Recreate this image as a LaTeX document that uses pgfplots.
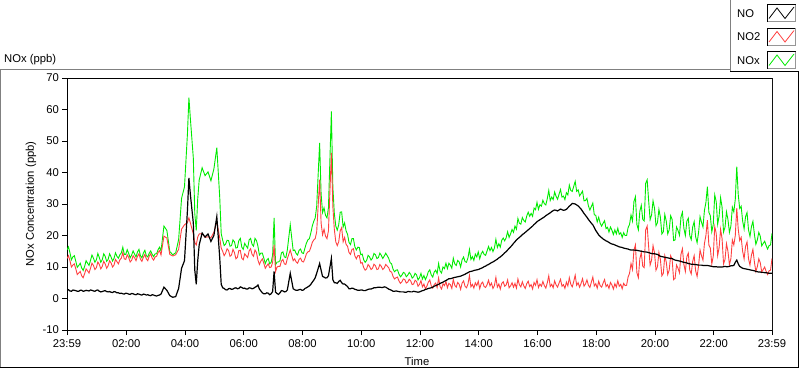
\documentclass[border=0pt]{standalone}
\usepackage{pgfplots}
\pgfplotsset{compat=1.18}
\usepackage{pgfplotstable}
\usepackage{fontspec}
\setmainfont{Liberation Sans}
\definecolor{noxgreen}{RGB}{0,235,0}
\definecolor{notwored}{RGB}{255,64,64}
\definecolor{framegray}{RGB}{128,128,128}
\definecolor{lightgray2}{RGB}{150,150,150}
\pgfplotstableread{
h NO NO2 NOx
0.0 2.6 12.7 15.4
0.05 2.8 13.6 16.4
0.1 2.4 12.0 14.5
0.15 2.3 10.0 12.3
0.2 2.7 10.6 13.2
0.25 2.6 11.0 13.6
0.3 2.5 9.4 11.8
0.35 2.3 7.6 9.9
0.4 2.3 8.1 10.5
0.45 2.6 8.6 11.2
0.5 2.6 7.2 9.7
0.55 2.3 6.6 8.9
0.6 2.4 7.9 10.2
0.65 2.6 9.4 12.0
0.7 2.5 8.8 11.2
0.75 2.4 8.1 10.5
0.8 2.7 9.6 12.1
0.85 2.6 11.2 13.8
0.9 2.4 10.5 12.8
0.95 2.3 9.2 11.5
1.0 2.6 9.8 12.3
1.05 2.7 11.6 14.3
1.1 2.3 10.8 13.0
1.15 2.1 9.4 11.5
1.2 2.2 10.2 12.3
1.25 2.4 11.8 14.2
1.3 2.5 11.0 13.4
1.35 2.2 9.6 11.8
1.4 2.1 10.4 12.4
1.45 2.2 12.0 14.2
1.5 2.0 11.3 13.2
1.55 1.9 10.0 11.9
1.6 2.2 10.6 12.7
1.65 2.1 12.4 14.5
1.7 1.8 11.7 13.4
1.75 1.8 11.0 12.8
1.8 1.6 12.3 13.9
1.85 1.7 12.8 14.5
1.9 1.5 14.6 16.3
1.95 1.4 12.6 14.0
2.0 1.7 12.4 14.0
2.05 1.6 13.9 15.5
2.1 1.4 13.0 14.3
2.15 1.3 11.6 12.9
2.2 1.6 12.1 13.8
2.25 1.5 13.6 15.1
2.3 1.3 12.9 14.1
2.35 1.2 12.0 13.2
2.4 1.5 13.4 14.8
2.45 1.4 14.2 15.6
2.5 1.2 12.5 13.6
2.55 1.1 11.8 12.9
2.6 1.4 13.1 14.4
2.65 1.3 14.0 15.3
2.7 1.1 12.6 13.6
2.75 1.2 12.0 13.2
2.8 1.0 13.5 14.4
2.85 0.9 14.2 15.1
2.9 1.2 12.8 14.0
2.95 1.1 12.2 13.3
3.0 0.9 13.2 14.2
3.05 0.8 13.4 14.2
3.1 1.0 14.6 15.5
3.15 1.1 15.2 16.3
3.2 1.4 13.8 15.1
3.3 3.6 19.8 23.0
3.4 2.6 19.2 21.6
3.5 0.9 14.0 14.9
3.6 0.4 13.5 13.9
3.7 0.6 13.9 14.5
3.8 3.2 15.6 18.7
3.9 9.6 22.0 31.8
4.0 12.0 23.4 35.5
4.1 28.0 24.2 52.3
4.15 38.3 25.6 63.8
4.2 33.0 24.0 57.1
4.3 24.0 20.5 44.6
4.35 9.0 17.8 27.0
4.4 4.5 17.0 21.6
4.45 12.0 19.5 31.6
4.5 17.0 20.5 37.6
4.6 20.8 20.6 41.5
4.7 19.5 19.4 39.0
4.8 20.5 19.6 40.2
4.9 18.1 19.3 37.4
5.0 20.0 21.0 41.1
5.1 26.0 24.5 47.9
5.2 12.8 19.2 32.0
5.25 4.5 16.0 20.6
5.3 3.4 15.0 18.5
5.35 3.2 13.6 16.8
5.4 2.8 14.4 17.3
5.45 2.7 15.8 18.5
5.5 3.1 15.2 18.4
5.55 3.2 13.4 16.6
5.6 2.9 13.8 16.8
5.65 3.0 15.6 18.6
5.7 3.3 14.6 18.0
5.75 3.4 12.6 16.0
5.8 3.1 13.1 16.2
5.85 3.2 15.2 18.4
5.9 3.7 15.3 19.1
5.95 3.5 12.8 16.3
6.0 3.2 12.3 15.6
6.05 3.3 14.2 17.5
6.1 3.0 13.6 16.7
6.15 3.0 13.0 16.0
6.2 3.4 15.1 18.6
6.25 3.3 15.8 19.1
6.3 3.1 14.0 17.2
6.35 3.2 13.4 16.6
6.4 3.6 15.4 19.1
6.45 3.8 14.6 18.4
6.5 4.3 12.2 16.6
6.55 3.0 10.8 13.8
6.6 2.4 11.9 14.4
6.65 1.8 12.6 14.4
6.7 1.5 11.2 12.8
6.75 1.5 9.6 11.1
6.8 1.8 10.4 12.2
6.85 1.7 11.0 12.7
6.9 1.2 9.8 11.0
6.95 1.5 10.0 11.5
7.0 2.2 11.5 13.8
7.05 8.6 17.0 25.6
7.1 2.0 8.6 10.7
7.15 1.6 10.0 11.6
7.2 1.3 10.2 11.6
7.25 1.8 10.2 12.0
7.3 2.5 11.9 14.5
7.35 2.4 12.4 14.8
7.4 2.1 11.0 13.2
7.45 2.2 10.8 13.0
7.5 2.7 12.6 15.4
7.6 8.0 15.4 23.4
7.7 3.1 12.0 15.2
7.75 2.8 12.6 15.4
7.8 2.6 11.6 14.3
7.85 2.6 11.2 13.8
7.9 2.8 12.4 15.3
7.95 2.9 12.8 15.7
8.0 2.6 11.8 14.5
8.05 2.7 11.6 14.3
8.1 3.2 12.7 16.0
8.15 3.4 14.2 17.6
8.2 3.7 14.8 18.6
8.25 4.0 15.0 19.0
8.3 4.5 16.2 20.8
8.35 5.2 17.8 23.0
8.4 5.8 18.6 24.5
8.45 6.6 19.0 25.6
8.5 8.0 21.2 29.3
8.6 11.1 37.7 49.4
8.65 9.0 24.0 33.2
8.7 7.0 20.2 27.3
8.75 6.8 22.0 28.8
8.8 6.5 19.8 26.4
8.85 6.6 19.0 25.6
8.9 7.2 21.5 28.8
9.0 12.7 46.2 59.4
9.05 6.0 29.2 35.4
9.1 5.0 22.0 27.1
9.15 5.0 18.0 23.0
9.2 4.8 16.8 21.7
9.25 5.4 18.0 23.4
9.3 5.8 21.5 27.4
9.35 5.0 22.5 27.5
9.4 4.6 18.0 22.7
9.45 4.6 19.4 24.0
9.5 4.2 17.2 21.5
9.55 3.8 16.6 20.4
9.6 3.1 14.6 17.8
9.65 3.1 14.0 17.1
9.7 3.3 15.6 19.0
9.75 3.2 15.8 19.0
9.8 2.9 13.5 16.4
9.85 2.8 12.6 15.4
9.9 2.6 13.6 16.3
9.95 2.6 13.6 16.2
10.0 2.7 11.2 13.9
10.05 2.7 11.4 14.1
10.1 2.5 9.8 12.3
10.15 2.5 9.0 11.5
10.2 2.7 9.4 12.1
10.25 2.9 10.8 13.7
10.3 3.0 10.2 13.2
10.35 3.0 9.2 12.2
10.4 3.2 9.6 12.8
10.45 3.4 10.9 14.3
10.5 3.4 10.4 13.9
10.55 3.5 9.2 12.7
10.6 3.6 9.4 13.0
10.65 3.6 10.8 14.4
10.7 3.5 10.2 13.7
10.75 3.5 9.2 12.7
10.8 3.7 9.7 13.5
10.85 3.6 10.8 14.4
10.9 3.3 10.3 13.6
10.95 3.0 9.8 12.8
11.0 2.8 8.6 11.4
11.05 2.6 8.4 11.0
11.1 2.3 7.0 9.3
11.15 2.3 6.2 8.5
11.2 2.4 6.6 9.0
11.25 2.3 6.8 9.1
11.3 2.2 5.6 7.8
11.35 2.1 4.8 6.9
11.4 2.1 5.3 7.4
11.45 2.1 6.2 8.3
11.5 2.0 6.0 8.0
11.55 2.0 4.9 6.9
11.6 2.2 5.2 7.4
11.65 2.2 6.1 8.3
11.7 2.1 5.6 7.7
11.75 2.1 4.4 6.5
11.8 2.3 4.6 6.9
11.85 2.2 5.8 8.0
11.9 2.1 5.4 7.5
11.95 2.0 3.9 5.9
12.0 2.1 4.5 6.6
12.05 2.3 5.7 8.0
12.1 2.5 3.7 6.2
12.15 2.6 4.6 7.3
12.2 2.9 3.1 6.0
12.25 3.0 3.9 7.0
12.3 3.2 5.2 8.5
12.35 3.3 5.9 9.1
12.4 3.4 4.0 7.5
12.45 3.6 3.3 6.8
12.5 3.9 4.4 8.4
12.55 4.1 4.9 9.0
12.6 4.3 3.5 7.9
12.65 4.5 6.5 11.1
12.7 4.8 3.8 8.7
12.75 5.0 3.0 8.1
12.8 5.2 4.7 10.0
12.85 5.5 4.1 9.5
12.9 5.7 5.4 11.2
12.95 6.0 3.4 9.5
13.0 6.3 4.8 11.2
13.05 6.3 4.4 10.6
13.1 6.4 3.2 9.6
13.15 6.6 6.1 12.8
13.2 6.7 4.2 11.0
13.25 6.8 3.6 10.5
13.3 6.9 5.1 12.1
13.35 7.0 4.5 11.6
13.4 7.1 2.9 10.0
13.45 7.3 4.9 12.3
13.5 7.5 5.6 13.2
13.55 7.7 3.9 11.7
13.6 8.0 3.4 11.5
13.65 8.2 4.6 12.9
13.7 8.5 7.3 15.6
13.75 8.6 3.7 12.4
13.8 8.7 4.5 13.3
13.85 8.9 3.3 12.1
13.9 9.0 5.0 14.1
13.95 9.1 4.1 13.2
14.0 9.2 5.5 14.8
14.05 9.4 3.1 12.6
14.1 9.6 4.7 14.2
14.15 9.8 5.2 15.0
14.2 10.1 3.8 14.0
14.25 10.3 3.5 13.7
14.3 10.6 4.4 15.1
14.35 10.8 5.8 16.5
14.4 11.1 4.0 15.2
14.45 11.4 4.9 16.2
14.5 11.6 3.2 14.9
14.55 11.9 4.1 16.0
14.6 12.2 6.7 18.8
14.65 12.5 3.6 16.2
14.7 12.9 4.6 17.4
14.75 13.2 3.0 16.3
14.8 13.6 4.8 18.5
14.85 14.0 5.3 19.2
14.9 14.5 3.9 18.3
14.95 14.9 4.3 19.3
15.0 15.4 5.9 21.2
15.05 15.9 3.4 19.4
15.1 16.4 4.0 20.5
15.15 16.9 5.0 21.9
15.2 17.5 3.6 21.0
15.25 18.0 4.8 23.0
15.3 18.6 3.3 22.0
15.35 19.0 6.2 25.4
15.4 19.4 4.4 23.9
15.45 19.8 3.7 23.6
15.5 20.3 5.3 25.7
15.55 20.6 4.0 24.8
15.6 21.0 3.2 24.3
15.65 21.4 4.7 26.2
15.7 21.8 5.5 27.4
15.75 22.2 3.8 26.1
15.8 22.6 4.4 27.0
15.85 23.0 3.0 26.1
15.9 23.5 5.1 28.7
15.95 23.9 4.2 28.2
16.0 24.4 6.0 30.5
16.05 24.7 3.5 28.3
16.1 25.0 4.6 29.8
16.15 25.3 3.9 29.3
16.2 25.6 5.4 31.2
16.25 25.9 4.1 30.1
16.3 26.3 3.3 29.7
16.35 26.6 5.0 31.7
16.4 26.9 7.2 34.3
16.45 27.2 3.8 31.1
16.5 27.6 4.5 32.2
16.55 27.9 3.4 31.4
16.6 28.1 5.6 33.8
16.65 28.0 4.3 32.4
16.7 27.8 3.6 31.5
16.75 28.1 4.9 33.1
16.8 28.4 6.1 34.6
16.85 28.2 3.9 32.2
16.9 28.0 4.4 32.5
16.95 28.1 3.2 31.4
17.0 28.3 5.2 33.6
17.05 28.8 4.0 32.9
17.1 29.3 6.6 36.0
17.15 29.7 4.5 34.3
17.2 30.2 3.7 34.0
17.25 30.1 5.4 35.6
17.3 30.0 7.4 37.2
17.35 29.7 4.2 34.0
17.4 29.4 5.0 34.5
17.45 28.9 3.6 32.6
17.5 28.4 4.8 33.3
17.55 27.7 6.3 34.1
17.6 27.0 3.9 31.0
17.65 26.4 4.6 31.1
17.7 25.8 5.9 31.8
17.75 25.1 4.2 29.4
17.8 24.5 3.5 28.1
17.85 23.9 5.2 29.2
17.9 23.4 6.8 30.3
17.95 22.5 4.0 26.6
18.0 21.6 4.7 26.4
18.05 20.9 3.3 24.3
18.1 20.2 5.5 25.8
18.15 19.7 4.1 23.9
18.2 19.3 3.6 23.0
18.25 18.9 4.9 23.9
18.3 18.6 6.0 24.7
18.35 18.3 3.8 22.2
18.4 18.1 4.4 22.6
18.45 17.8 3.2 21.1
18.5 17.5 5.1 22.7
18.55 17.3 4.3 21.7
18.6 17.2 3.0 20.3
18.65 17.0 4.7 21.8
18.7 16.8 3.6 20.5
18.75 16.6 5.6 22.3
18.8 16.4 3.9 20.4
18.85 16.3 4.5 20.9
18.9 16.2 3.1 19.4
18.95 16.0 4.8 20.9
19.0 15.9 4.1 20.0
19.05 15.8 4.2 20.0
19.1 15.7 6.8 22.5
19.15 15.5 8.0 23.5
19.2 15.4 11.1 26.5
19.25 15.4 9.2 24.6
19.3 15.4 15.4 30.8
19.35 15.3 17.0 32.3
19.4 15.3 8.2 23.5
19.45 15.2 6.6 21.8
19.5 15.1 12.6 27.7
19.55 15.0 14.6 29.6
19.6 14.9 10.2 25.1
19.65 14.8 9.8 24.6
19.7 14.8 21.8 36.6
19.75 14.7 23.0 37.7
19.8 14.6 16.5 31.1
19.85 14.4 10.6 25.0
19.9 14.3 12.2 26.5
19.95 14.2 16.8 31.0
20.0 14.2 14.5 28.7
20.05 14.1 9.0 23.1
20.1 14.0 10.1 24.1
20.15 13.7 14.6 28.3
20.2 13.4 12.4 25.8
20.25 13.3 7.2 20.5
20.3 13.2 8.0 21.2
20.35 13.1 13.6 26.7
20.4 13.0 11.6 24.6
20.45 12.9 7.6 20.5
20.5 12.8 9.0 21.8
20.55 12.7 13.6 26.3
20.6 12.7 12.4 25.1
20.65 12.4 6.0 18.4
20.7 12.2 6.4 18.6
20.75 12.1 10.6 22.7
20.8 12.0 9.6 21.6
20.85 11.9 8.2 20.1
20.9 11.8 14.0 25.8
20.95 11.6 15.8 27.4
21.0 11.5 10.8 22.3
21.05 11.4 8.6 20.0
21.1 11.3 13.2 24.5
21.15 11.1 14.4 25.5
21.2 11.0 9.0 20.0
21.25 10.9 7.8 18.7
21.3 10.9 11.8 22.7
21.35 10.8 13.6 24.4
21.4 10.8 8.8 19.6
21.45 10.7 7.0 17.7
21.5 10.6 10.4 21.0
21.55 10.6 15.4 26.0
21.6 10.6 13.6 24.2
21.65 10.5 12.2 22.7
21.7 10.5 17.5 28.0
21.75 10.5 20.0 30.5
21.8 10.5 24.9 35.5
21.85 10.4 17.0 27.4
21.9 10.3 16.0 26.3
21.95 10.2 11.0 21.2
22.0 10.1 13.4 23.5
22.05 10.1 22.8 32.9
22.1 10.1 20.7 30.8
22.15 10.0 13.6 23.6
22.2 10.0 16.2 26.2
22.25 10.0 22.0 32.0
22.3 10.0 19.0 29.0
22.35 10.1 11.0 21.1
22.4 10.2 12.4 22.6
22.45 10.1 17.4 27.5
22.5 10.1 15.0 25.1
22.55 10.2 10.8 21.0
22.6 10.4 12.6 23.0
22.65 10.4 18.6 29.0
22.7 10.5 17.0 27.5
22.75 11.5 20.0 31.5
22.8 12.2 28.7 41.9
22.85 11.0 22.0 33.0
22.9 10.2 18.4 28.6
22.95 9.9 19.4 29.3
23.0 9.6 15.0 24.6
23.05 9.5 12.6 22.1
23.1 9.4 16.6 26.0
23.15 9.3 18.0 27.3
23.2 9.2 12.6 21.8
23.25 9.1 10.6 19.7
23.3 9.0 13.8 22.8
23.35 8.9 15.6 24.5
23.4 8.8 11.6 20.4
23.45 8.6 8.6 17.2
23.5 8.5 10.1 18.6
23.55 8.4 12.6 21.0
23.6 8.4 11.4 19.8
23.65 8.3 8.4 16.7
23.7 8.3 9.2 17.5
23.75 8.2 10.0 18.2
23.8 8.2 8.6 16.8
23.85 8.1 7.6 15.7
23.9 8.0 8.8 16.8
23.95 8.0 9.0 17.0
24.0 8.0 12.7 20.7
}\datatable
\begin{document}
\fontsize{11.3}{13}\selectfont
\begin{tikzpicture}
\begin{scope}[x=1bp,y=1bp]
\path[use as bounding box] (0,0) rectangle (800,-369);
% outer panel
\draw[framegray, line width=1bp] (0.5,-368) -- (0.5,-69.5) -- (730,-69.5);
\draw[black, line width=1bp] (0,-367.5) -- (798.5,-367.5) -- (798.5,-72);
% legend frame
\draw[framegray, line width=1bp] (730.5,-72) -- (730.5,0);
\draw[black, line width=1bp] (730,-71.5) -- (799,-71.5);
% texts
\node[anchor=base west, inner sep=0pt] at (4,-62) {NOx (ppb)};
\node[rotate=90, anchor=center, inner sep=0pt] at (31,-204) {NOx Concentration (ppb)};
\node[anchor=base, inner sep=0pt] at (417,-365.5) {Time};
\end{scope}
\begin{axis}[
  at={(67bp,-330bp)}, anchor=south west,
  scale only axis, width=705bp, height=252bp,
  xmin=0, xmax=24, ymin=-10, ymax=70,
  axis line style={black, line width=1bp},
  tick align=outside,
  xtick pos=bottom, ytick pos=left,
  major tick length=5bp, minor tick length=3bp,
  tick style={black, line width=0.8bp},
  xtick={0,2.0167,4.0167,6.0167,8.0167,10.0167,12.0167,14.0167,16.0167,18.0167,20.0167,22.0167,24},
  xticklabels={23:59,02:00,04:00,06:00,08:00,10:00,12:00,14:00,16:00,18:00,20:00,22:00,23:59},
  minor x tick num=9,
  ytick={-10,0,10,20,30,40,50,60,70},
  yticklabels={-10,0,10,20,30,40,50,60,70},
  ticklabel style={font=\fontsize{11.3}{13}\selectfont},
  xticklabel style={anchor=north, inner sep=0pt, yshift=-4.5bp},
  yticklabel style={anchor=east, inner sep=0pt, xshift=-3bp},
]
\addplot[noxgreen, line width=0.9bp] table[x=h, y=NOx] {\datatable};
\addplot[notwored, line width=0.9bp] table[x=h, y=NO2] {\datatable};
\addplot[black, line width=1.2bp] table[x=h, y=NO] {\datatable};
\draw[lightgray2, line width=1bp] (rel axis cs:1,0) -- (rel axis cs:1,1);
\end{axis}
\begin{scope}[x=1bp,y=1bp]
% legend entries
\node[anchor=base west, inner sep=0pt] at (737,-17) {NO};
\node[anchor=base west, inner sep=0pt] at (737,-40.5) {NO2};
\node[anchor=base west, inner sep=0pt] at (737,-64) {NOx};
\foreach \t/\c in {4/black,27.5/notwored,51/noxgreen}{
  \fill[white] (767,-\t) rectangle (795.5,-\t-18);
  \draw[black, line width=1bp] (767.5,-\t-18) -- (767.5,-\t-0.5) -- (795.5,-\t-0.5);
  \draw[lightgray2, line width=1bp] (795.5,-\t-0.5) -- (795.5,-\t-17.5) -- (767.5,-\t-17.5);
  \draw[\c, line width=0.8bp] (769,-\t-14.5) -- (777,-\t-4) -- (785,-\t-14.5) -- (794,-\t-3);
}
\end{scope}
\end{tikzpicture}
\end{document}
